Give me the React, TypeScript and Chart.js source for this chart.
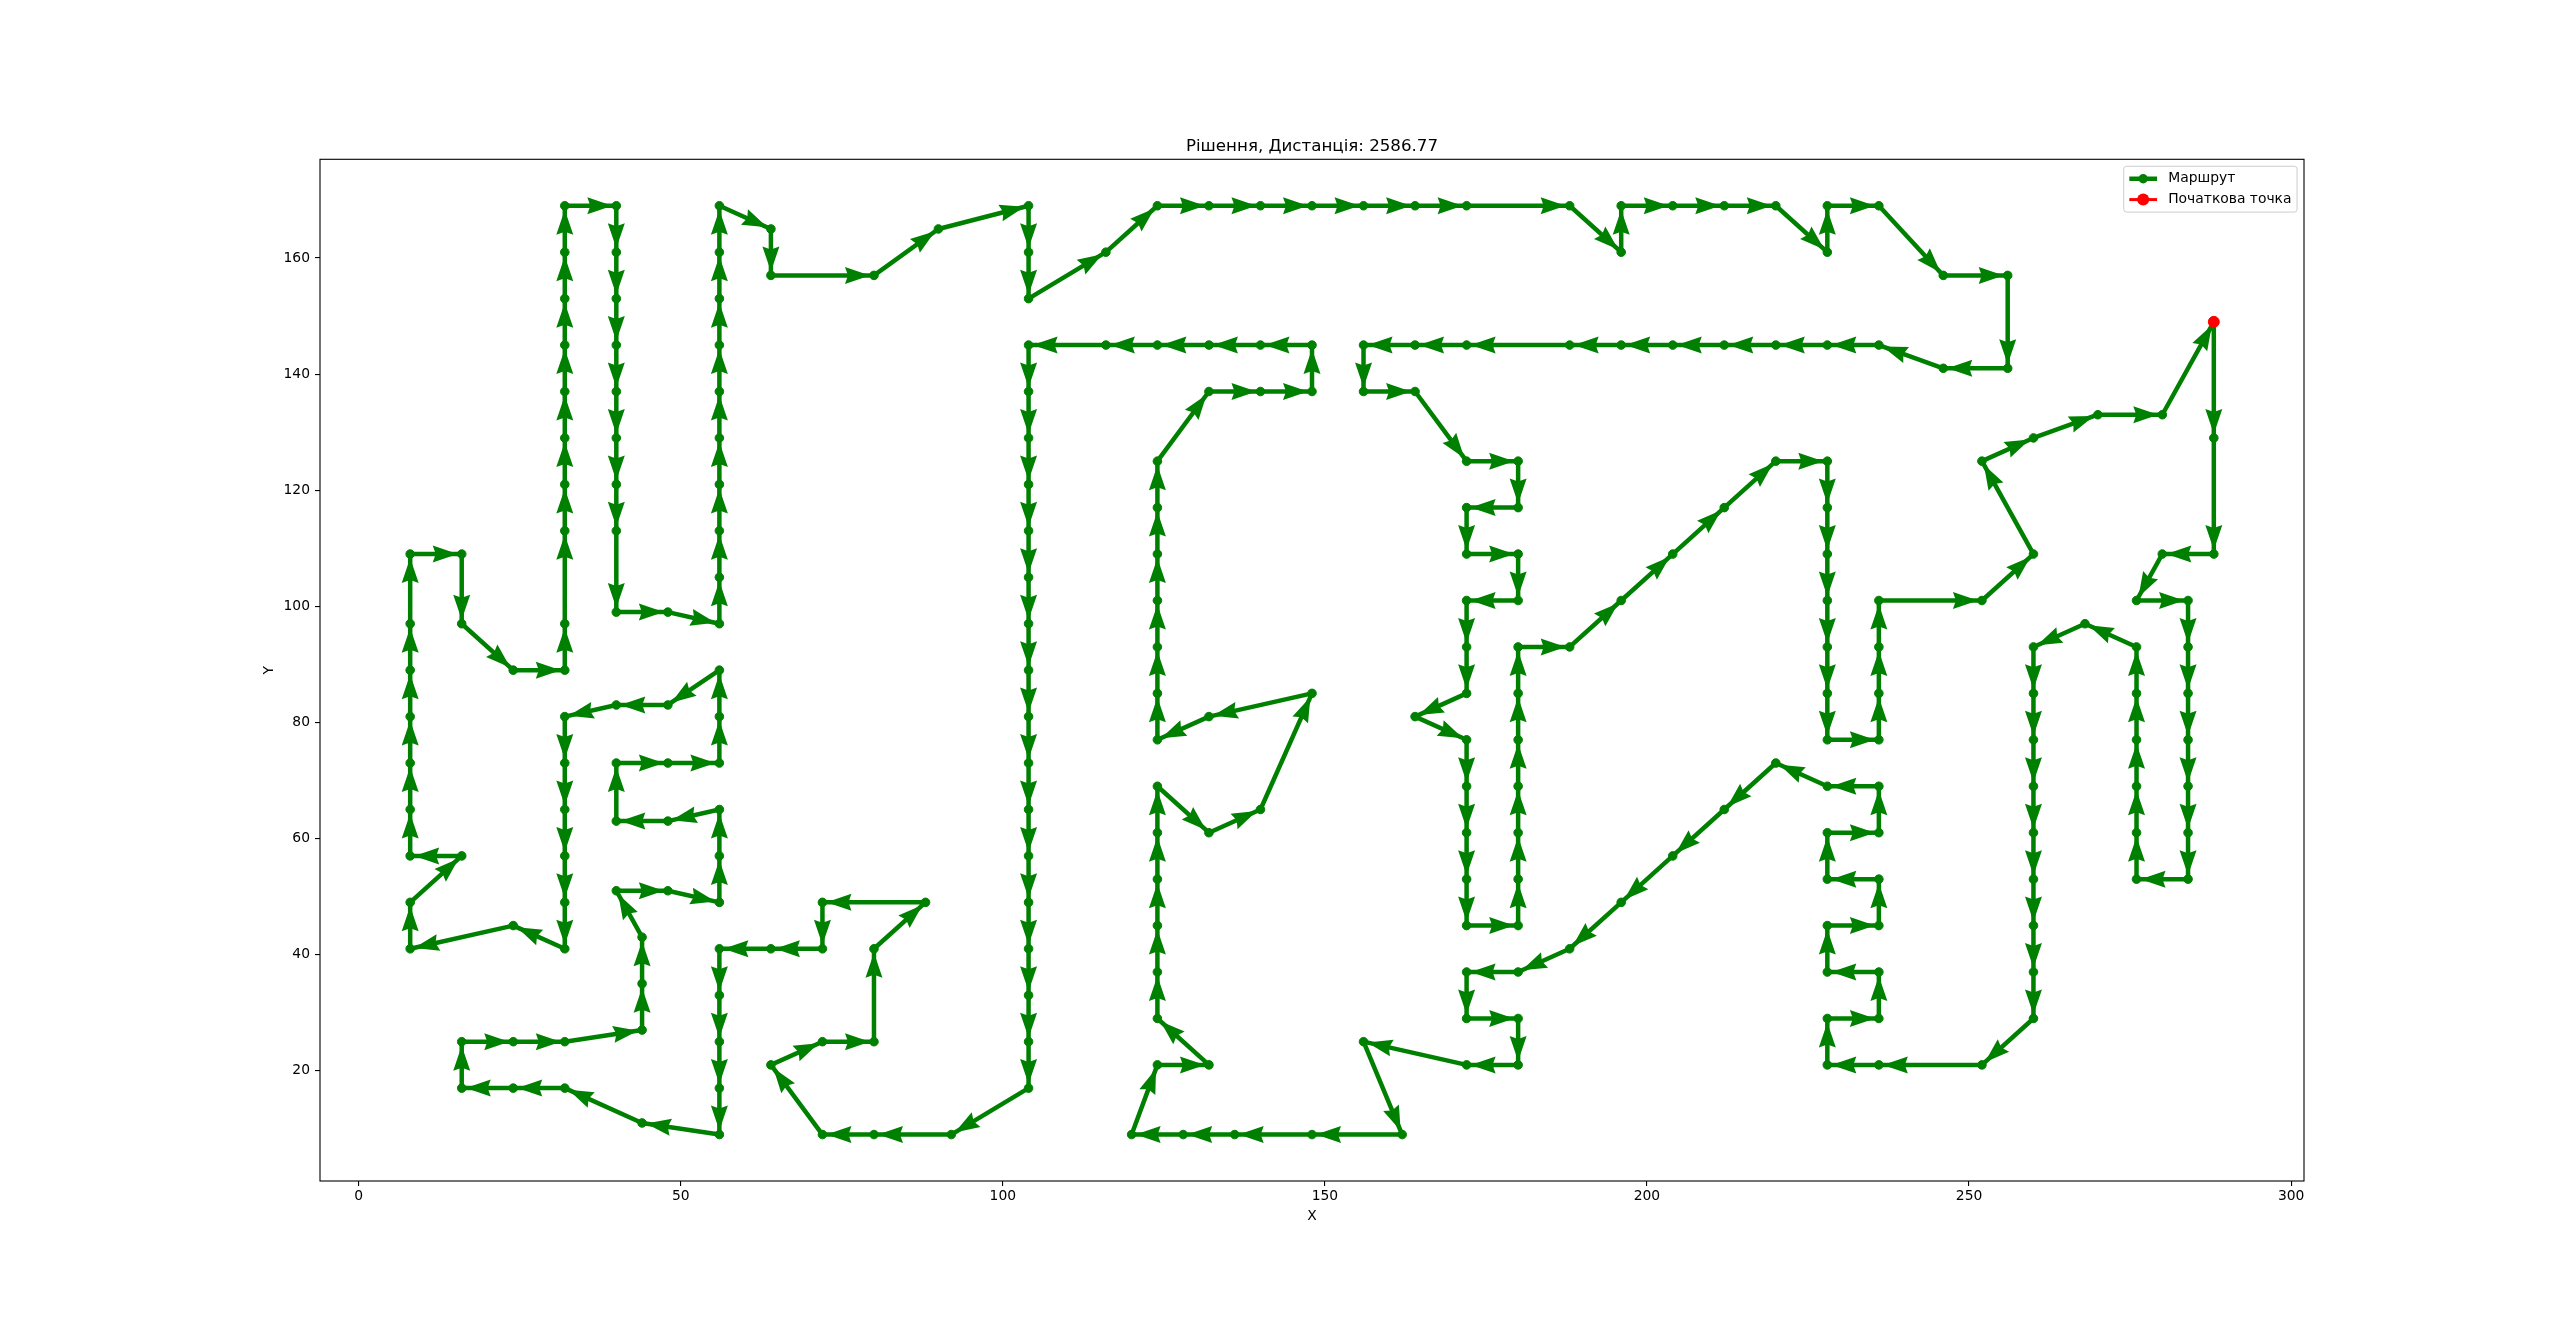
import React, { useEffect, useRef } from 'react';
import { Chart, registerables } from 'chart.js';

Chart.register(...registerables);

const TITLE = 'Рішення, Дистанція: 2586.77';
const ROUTE_LABEL = 'Маршрут';
const START_LABEL = 'Початкова точка';
const X_LABEL = 'X';
const Y_LABEL = 'Y';
const X_TICKS = [0, 50, 100, 150, 200, 250, 300];
const Y_TICKS = [20, 40, 60, 80, 100, 120, 140, 160];

// Route in visiting order (starts and ends at the start point)
const ROUTE_X = [
  288, 288, 288, 280, 276, 284, 284, 284, 284, 284, 284, 284, 276, 276, 276, 276, 276, 276, 268, 260,
  260, 260, 260, 260, 260, 260, 260, 260, 252, 236, 228, 228, 236, 236, 228, 228, 236, 236, 228, 228,
  236, 236, 228, 220, 212, 204, 196, 188, 180, 172, 172, 180, 180, 172, 156, 162, 148, 136, 128, 120,
  124, 132, 124, 124, 124, 124, 124, 124, 132, 140, 148, 132, 124, 124, 124, 124, 124, 124, 124, 132,
  140, 148, 148, 140, 132, 124, 116, 104, 104, 104, 104, 104, 104, 104, 104, 104, 104, 104, 104, 104,
  104, 104, 104, 104, 92, 80, 72, 64, 72, 80, 80, 88, 72, 72, 64, 56, 56, 56, 56, 56,
  44, 32, 24, 16, 16, 24, 32, 44, 44, 44, 40, 48, 56, 56, 56, 48, 40, 40, 48, 56,
  56, 56, 48, 40, 32, 32, 32, 32, 32, 32, 24, 8, 8, 16, 8, 8, 8, 8, 8, 8,
  8, 16, 16, 24, 32, 32, 32, 32, 32, 32, 32, 32, 32, 32, 40, 40, 40, 40, 40, 40,
  40, 40, 40, 48, 56, 56, 56, 56, 56, 56, 56, 56, 56, 56, 64, 64, 80, 90, 104, 104,
  104, 116, 124, 132, 140, 148, 156, 164, 172, 188, 196, 196, 204, 212, 220, 228, 228, 236, 246, 256,
  256, 246, 236, 228, 220, 212, 204, 196, 188, 172, 164, 156, 156, 164, 172, 180, 180, 172, 172, 180,
  180, 172, 172, 172, 164, 172, 172, 172, 172, 172, 180, 180, 180, 180, 180, 180, 180, 188, 196, 204,
  212, 220, 228, 228, 228, 228, 228, 228, 228, 236, 236, 236, 236, 252, 260, 252, 260, 270, 280, 288,
];
const ROUTE_Y = [
  149, 129, 109, 109, 101, 101, 93, 85, 77, 69, 61, 53, 53, 61, 69, 77, 85, 93, 97, 93,
  85, 77, 69, 61, 53, 45, 37, 29, 21, 21, 21, 29, 29, 37, 37, 45, 45, 53, 53, 61,
  61, 69, 69, 73, 65, 57, 49, 41, 37, 37, 29, 29, 21, 21, 25, 9, 9, 9, 9, 9,
  21, 21, 29, 37, 45, 53, 61, 69, 61, 65, 85, 81, 77, 85, 93, 101, 109, 117, 125, 137,
  137, 137, 145, 145, 145, 145, 145, 145, 137, 129, 121, 113, 105, 97, 89, 81, 73, 65, 57, 49,
  41, 33, 25, 17, 9, 9, 9, 21, 25, 25, 41, 49, 49, 41, 41, 41, 33, 25, 17, 9,
  11, 17, 17, 17, 25, 25, 25, 27, 35, 43, 51, 51, 49, 57, 65, 63, 63, 73, 73, 73,
  81, 89, 83, 83, 81, 73, 65, 57, 49, 41, 45, 41, 49, 57, 57, 65, 73, 81, 89, 97,
  109, 109, 97, 89, 89, 97, 113, 121, 129, 137, 145, 153, 161, 169, 169, 161, 153, 145, 137, 129,
  121, 113, 99, 99, 97, 105, 113, 121, 129, 137, 145, 153, 161, 169, 165, 157, 157, 165, 169, 161,
  153, 161, 169, 169, 169, 169, 169, 169, 169, 169, 161, 169, 169, 169, 169, 161, 169, 169, 157, 157,
  141, 141, 145, 145, 145, 145, 145, 145, 145, 145, 145, 145, 137, 137, 125, 125, 117, 117, 109, 109,
  101, 101, 93, 85, 81, 77, 69, 61, 53, 45, 45, 53, 61, 69, 77, 85, 93, 93, 101, 109,
  117, 125, 125, 117, 109, 101, 93, 85, 77, 77, 85, 93, 101, 101, 109, 125, 129, 133, 133, 149,
];
const START_X = [288];
const START_Y = [149];

const GREEN = '#008000';
const RED = '#ff0000';
const FONT = '"DejaVu Sans", sans-serif';
const FS = 13.89;

const arrowPlugin = {
  id: 'routeArrows',
  afterDatasetDraw(chart: any, args: any) {
    if (args.index !== 0) return;
    const pts = args.meta.data;
    const ctx = chart.ctx;
    const HEAD_LEN = 25;
    const HEAD_W = 17;
    const GAP = 4;
    const NOTCH = 3;
    ctx.save();
    ctx.fillStyle = GREEN;
    for (let i = 0; i < pts.length - 1; i++) {
      const a = pts[i];
      const b = pts[i + 1];
      const dx = b.x - a.x;
      const dy = b.y - a.y;
      const len = Math.hypot(dx, dy);
      if (len < 1) continue;
      const ux = dx / len;
      const uy = dy / len;
      const nx = -uy;
      const ny = ux;
      const tx = b.x - ux * GAP;
      const ty = b.y - uy * GAP;
      const bx = tx - ux * HEAD_LEN;
      const by = ty - uy * HEAD_LEN;
      ctx.beginPath();
      ctx.moveTo(tx, ty);
      ctx.lineTo(bx + nx * HEAD_W / 2, by + ny * HEAD_W / 2);
      ctx.lineTo(bx + ux * NOTCH, by + uy * NOTCH);
      ctx.lineTo(bx - nx * HEAD_W / 2, by - ny * HEAD_W / 2);
      ctx.closePath();
      ctx.fill();
    }
    ctx.restore();
  },
};

const frameLegendPlugin = {
  id: 'frameLegend',
  afterDraw(chart: any) {
    const ctx = chart.ctx;
    const area = chart.chartArea;
    ctx.save();
    // axes frame
    ctx.strokeStyle = '#000';
    ctx.lineWidth = 1.1;
    ctx.strokeRect(area.left, area.top, area.right - area.left, area.bottom - area.top);

    // legend
    const labels = [ROUTE_LABEL, START_LABEL];
    ctx.font = `${FS}px ${FONT}`;
    const textW = Math.max(...labels.map((t) => ctx.measureText(t).width));
    const pad = 0.4 * FS;
    const hl = 2 * FS;
    const htp = 0.8 * FS;
    const rowH = FS;
    const spacing = 0.5 * FS;
    const boxW = pad + hl + htp + textW + pad;
    const boxH = 2 * pad + 2 * rowH + spacing;
    const x0 = area.right - 0.5 * FS - boxW;
    const y0 = area.top + 0.5 * FS;
    const r = 0.2 * FS;
    ctx.beginPath();
    ctx.moveTo(x0 + r, y0);
    ctx.lineTo(x0 + boxW - r, y0);
    ctx.arcTo(x0 + boxW, y0, x0 + boxW, y0 + r, r);
    ctx.lineTo(x0 + boxW, y0 + boxH - r);
    ctx.arcTo(x0 + boxW, y0 + boxH, x0 + boxW - r, y0 + boxH, r);
    ctx.lineTo(x0 + r, y0 + boxH);
    ctx.arcTo(x0, y0 + boxH, x0, y0 + boxH - r, r);
    ctx.lineTo(x0, y0 + r);
    ctx.arcTo(x0, y0, x0 + r, y0, r);
    ctx.closePath();
    ctx.fillStyle = 'rgba(255,255,255,0.8)';
    ctx.fill();
    ctx.strokeStyle = '#cccccc';
    ctx.lineWidth = 1;
    ctx.stroke();

    const styles = [
      { color: GREEN, lw: 4.5, r: 4.7 },
      { color: RED, lw: 3, r: 6 },
    ];
    labels.forEach((t, i) => {
      const cy = y0 + pad + rowH / 2 + i * (rowH + spacing);
      const lx0 = x0 + pad;
      const lx1 = lx0 + hl;
      ctx.strokeStyle = styles[i].color;
      ctx.lineWidth = styles[i].lw;
      ctx.beginPath();
      ctx.moveTo(lx0, cy);
      ctx.lineTo(lx1, cy);
      ctx.stroke();
      ctx.fillStyle = styles[i].color;
      ctx.beginPath();
      ctx.arc((lx0 + lx1) / 2, cy, styles[i].r, 0, Math.PI * 2);
      ctx.fill();
      ctx.fillStyle = '#000';
      ctx.textBaseline = 'middle';
      ctx.textAlign = 'left';
      ctx.fillText(t, lx1 + htp, cy);
    });
    ctx.restore();
  },
};

export default function App() {
  const ref = useRef<HTMLCanvasElement | null>(null);

  useEffect(() => {
    if (!ref.current) return;
    const routeData = ROUTE_X.map((x, i) => ({ x, y: ROUTE_Y[i] }));
    const startData = START_X.map((x, i) => ({ x, y: START_Y[i] }));

    const tickFont = { family: FONT, size: FS };
    const grid = {
      drawOnChartArea: false,
      drawTicks: true,
      tickLength: 5,
      color: '#000',
      lineWidth: 1.1,
    };

    const chart = new Chart(ref.current, {
      type: 'scatter',
      data: {
        datasets: [
          {
            label: ROUTE_LABEL,
            data: routeData,
            showLine: true,
            borderColor: GREEN,
            backgroundColor: GREEN,
            borderWidth: 4.5,
            borderJoinStyle: 'round',
            pointRadius: 4.3,
            pointBorderWidth: 1,
            pointBorderColor: GREEN,
            pointBackgroundColor: GREEN,
            order: 1,
            clip: false,
          } as any,
          {
            label: START_LABEL,
            data: startData,
            showLine: true,
            borderColor: RED,
            backgroundColor: RED,
            borderWidth: 3,
            pointRadius: 5.5,
            pointBorderWidth: 1,
            pointBorderColor: RED,
            pointBackgroundColor: RED,
            order: 0,
            clip: false,
          } as any,
        ],
      },
      options: {
        animation: false,
        responsive: true,
        maintainAspectRatio: false,
        devicePixelRatio: 1,
        layout: { padding: { left: 0, right: 256, top: 0, bottom: 86 } },
        events: [],
        plugins: {
          legend: { display: false },
          tooltip: { enabled: false },
          title: {
            display: true,
            fullSize: false,
            text: TITLE,
            color: '#000',
            font: { family: FONT, size: 16.67, weight: 'normal' },
            padding: { top: 136.5, bottom: 2.8 },
          },
        },
        scales: {
          x: {
            type: 'linear',
            min: -6,
            max: 302,
            afterBuildTicks: (s: any) => {
              s.ticks = X_TICKS.map((v) => ({ value: v }));
            },
            afterFit: (s: any) => {
              s.height = 60;
            },
            grid,
            border: { display: false },
            ticks: {
              color: '#000',
              font: tickFont,
              padding: 2.5,
              maxRotation: 0,
              autoSkip: false,
              callback: (v: any) => String(v),
            },
            title: {
              display: true,
              text: X_LABEL,
              color: '#000',
              font: tickFont,
              padding: { top: 0, bottom: 16.2 },
            },
          },
          y: {
            type: 'linear',
            min: 1,
            max: 177,
            afterBuildTicks: (s: any) => {
              s.ticks = Y_TICKS.map((v) => ({ value: v }));
            },
            afterFit: (s: any) => {
              s.width = 256;
            },
            grid,
            border: { display: false },
            ticks: {
              color: '#000',
              font: tickFont,
              padding: 5,
              autoSkip: false,
              callback: (v: any) => String(v),
            },
            title: {
              display: true,
              text: Y_LABEL,
              color: '#000',
              font: tickFont,
              padding: { top: 196.6, bottom: 0 },
            },
          },
        },
      } as any,
      plugins: [arrowPlugin, frameLegendPlugin],
    });
    return () => chart.destroy();
  }, []);

  return (
    <div style={{ position: 'fixed', left: 64, top: 0, width: 2496, height: 1327, background: '#fff' }}>
      <canvas ref={ref} />
    </div>
  );
}
